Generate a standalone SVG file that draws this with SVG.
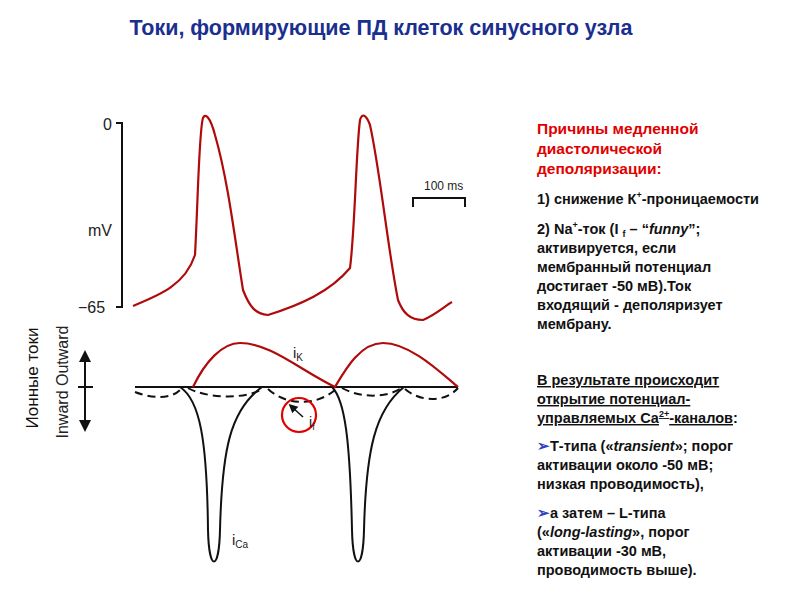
<svg xmlns="http://www.w3.org/2000/svg" width="800" height="600" viewBox="0 0 800 600">
<style>
.t{font-family:"Liberation Sans",Arial,sans-serif;font-weight:bold;font-size:14.5px;fill:#111}
.r{fill:#e00000;font-size:15.5px}
.ax{font-family:"Liberation Sans",Arial,sans-serif;fill:#222}
.red{fill:none;stroke:#b00a0a;stroke-width:2.2}
.blk{fill:none;stroke:#111;stroke-width:2}
</style>
<defs><marker id="ah" viewBox="0 0 10 10" refX="5" refY="5" markerWidth="6" markerHeight="8" orient="auto"><path d="M0,0L10,5L0,10z" fill="#111"/></marker></defs>
<rect width="800" height="600" fill="#fff"/>
<text x="381" y="35" text-anchor="middle" font-family="Liberation Sans,Arial,sans-serif" font-weight="bold" font-size="21.5" fill="#1a2f8f">Токи, формирующие ПД клеток синусного узла</text>
<g id="axes">
<path class="blk" d="M116,123H122V307H116"/>
<text class="ax" x="103" y="130" font-size="16">0</text>
<text class="ax" x="88" y="236" font-size="16">mV</text>
<text class="ax" x="78" y="313" font-size="16">−65</text>
<path class="blk" d="M413,207V198H465V207"/>
<text class="ax" x="424" y="190" font-size="12">100 ms</text>
<path class="blk" d="M85,387V426" marker-end="url(#ah)"/>
<path class="blk" d="M85,387V356" marker-end="url(#ah)"/>
<path class="blk" d="M78,387H93"/>
<text class="ax" font-size="16" transform="translate(68,382) rotate(-90)" text-anchor="middle">Inward Outward</text>
<text x="38" y="378" font-family="Liberation Sans,Arial,sans-serif" font-size="17" fill="#111" transform="rotate(-90 38 378)" text-anchor="middle">Ионные токи</text>
</g>
<g id="ap">
<path class="red" d="M133,306C160,295 185,285 195,255C198,200 199,130 203,118C205,113 210,116 215,135C228,180 235,240 243,290C250,308 256,314 268,315C300,305 330,292 350,268C355,230 356,150 360,120C362,113 366,114 370,125C380,170 388,250 398,300C403,313 410,320 423,320C435,315 445,306 452,302"/>
</g>
<g id="currents">
<path class="blk" d="M135,387H458"/>
<path class="red" d="M193,387C205,362 222,343 240,343C270,343 300,370 335,387C345,370 360,343 383,343C410,343 440,372 458,387"/>
<path class="blk" stroke-dasharray="8,5" d="M135,392C150,398 170,400 180,390M188,388C205,398 245,400 262,389M268,389C285,405 315,407 335,390M342,388C360,398 385,398 400,389M405,389C420,402 445,403 458,388"/>
<path class="blk" d="M180,387C200,400 207,440 208,530C209,572 219,572 220,530C222,450 230,410 262,387"/>
<path class="blk" d="M332,387C345,400 350,440 352,530C353,572 363,572 364,530C366,450 375,410 404,387"/>
<circle cx="299" cy="415" r="17" fill="none" stroke="#e00000" stroke-width="2.2"/>
<path d="M303,417L292,407" stroke="#111" stroke-width="1.5" fill="none" marker-end="url(#ah)"/>
<text class="ax" x="293" y="358" font-size="15">i<tspan font-size="10" dy="3">K</tspan></text>
<text class="ax" x="309" y="427" font-size="14">i<tspan font-size="9" dy="3">f</tspan></text>
<text class="ax" x="232" y="545" font-size="15">i<tspan font-size="10" dy="3">Ca</tspan></text>
</g>
<g id="text">
<text class="t r" x="537" y="134">Причины медленной</text>
<text class="t r" x="537" y="154">диастолической</text>
<text class="t r" x="537" y="174">деполяризации:</text>
<text class="t" x="537" y="204">1) снижение К<tspan font-size="9" dy="-6">+</tspan><tspan dy="6">-проницаемости</tspan></text>
<text class="t" x="537" y="234">2) Na<tspan font-size="9" dy="-6">+</tspan><tspan dy="6">-ток (I </tspan><tspan font-size="9" dy="3">f</tspan><tspan dy="-3"> – “</tspan><tspan font-style="italic">funny</tspan>”;</text>
<text class="t" x="537" y="253">активируется, если</text>
<text class="t" x="537" y="272">мембранный потенциал</text>
<text class="t" x="537" y="291">достигает -50 мВ).Ток</text>
<text class="t" x="537" y="310">входящий - деполяризует</text>
<text class="t" x="537" y="329">мембрану.</text>
<text class="t" x="537" y="385" text-decoration="underline">В результате происходит</text>
<text class="t" x="537" y="404" text-decoration="underline">открытие потенциал-</text>
<text class="t" x="537" y="423"><tspan text-decoration="underline">управляемых Са<tspan font-size="9" dy="-6">2+</tspan><tspan dy="6">-каналов</tspan></tspan>:</text>
<text class="t" x="537" y="451"><tspan fill="#3040c0">➢</tspan>Т-типа («<tspan font-style="italic">transient</tspan>»; порог</text>
<text class="t" x="537" y="470">активации около -50 мВ;</text>
<text class="t" x="537" y="489">низкая проводимость),</text>
<text class="t" x="537" y="518"><tspan fill="#3040c0">➢</tspan>а затем – L-типа</text>
<text class="t" x="537" y="537">(«<tspan font-style="italic">long-lasting</tspan>», порог</text>
<text class="t" x="537" y="556">активации -30 мВ,</text>
<text class="t" x="537" y="575">проводимость выше).</text>
</g>
</svg>
